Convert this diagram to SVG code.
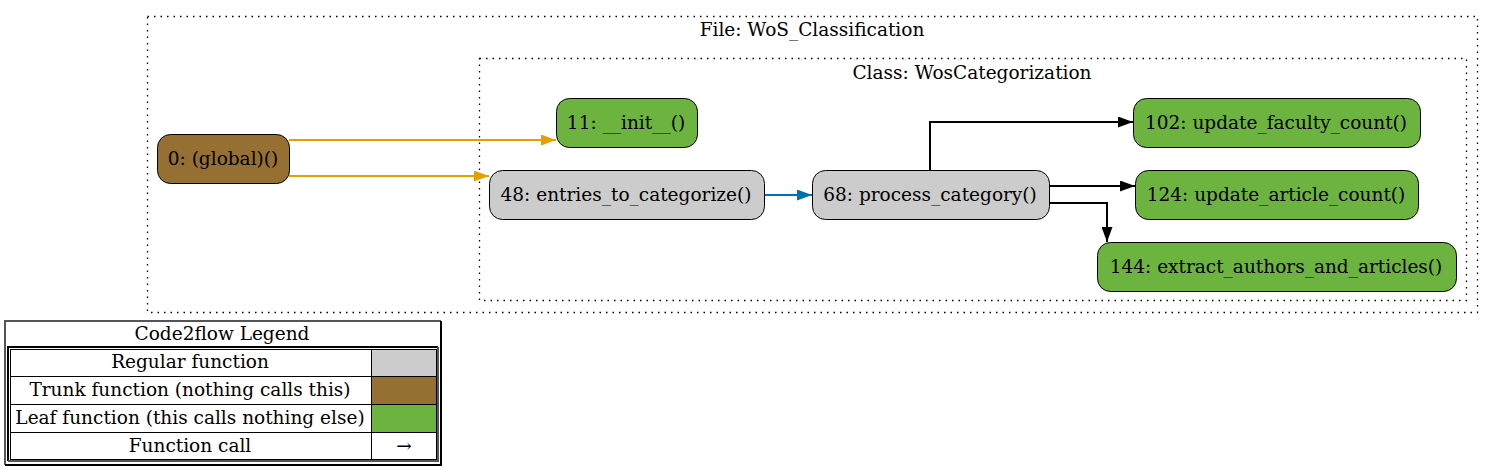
<svg xmlns="http://www.w3.org/2000/svg" width="1493" height="470" viewBox="0 0 1493 470">
<style>
text{font-family:"DejaVu Serif","Liberation Serif",serif;font-size:18.5px;fill:#000;text-anchor:middle}
.cl{fill:none;stroke:#000;stroke-width:1.3;stroke-dasharray:1.5 5}
.n{stroke:#000;stroke-width:1}
.g{fill:#cccccc}.t{fill:#966f33}.l{fill:#6db33f}
.e{fill:none;stroke-width:2}
.lg{fill:#fff;stroke:#000;stroke-width:1}
</style>
<defs>
<marker id="ao" viewBox="0 0 15 11" refX="15" refY="5.5" markerWidth="7.5" markerHeight="5.5" markerUnits="strokeWidth" orient="auto"><path d="M0,0L15,5.5L0,11z" fill="#e69f00"/></marker>
<marker id="ab" viewBox="0 0 15 11" refX="15" refY="5.5" markerWidth="7.5" markerHeight="5.5" markerUnits="strokeWidth" orient="auto"><path d="M0,0L15,5.5L0,11z" fill="#0072b2"/></marker>
<marker id="ak" viewBox="0 0 15 11" refX="15" refY="5.5" markerWidth="7.5" markerHeight="5.5" markerUnits="strokeWidth" orient="auto"><path d="M0,0L15,5.5L0,11z" fill="#000"/></marker>
</defs>
<rect width="1493" height="470" fill="#fff"/>
<g id="cluster_file">
<rect class="cl" x="147.5" y="16.5" width="1330" height="296"/>
<text x="812" y="36">File: WoS_Classification</text>
</g>
<g id="cluster_class">
<rect class="cl" x="479.5" y="58.5" width="987" height="242"/>
<text x="972" y="79">Class: WosCategorization</text>
</g>
<g id="edges">
<path class="e" stroke="#e69f00" d="M289,140H556" marker-end="url(#ao)"/>
<path class="e" stroke="#e69f00" d="M289,176H489" marker-end="url(#ao)"/>
<path class="e" stroke="#0072b2" d="M764,195H812" marker-end="url(#ab)"/>
<path class="e" stroke="#000" d="M930,170V122H1133" marker-end="url(#ak)"/>
<path class="e" stroke="#000" d="M1049,186H1135" marker-end="url(#ak)"/>
<path class="e" stroke="#000" d="M1049,203H1107V242" marker-end="url(#ak)"/>
</g>
<g id="node_global"><rect class="n t" x="157.5" y="134.5" width="132" height="49" rx="13"/><text x="223" y="165">0: (global)()</text></g>
<g id="node_init"><rect class="n l" x="556.5" y="98.5" width="141" height="49" rx="13"/><text x="626" y="129">11: __init__()</text></g>
<g id="node_entries"><rect class="n g" x="489.5" y="170.5" width="275" height="49" rx="13"/><text x="626" y="201">48: entries_to_categorize()</text></g>
<g id="node_process"><rect class="n g" x="812.5" y="170.5" width="237" height="49" rx="13"/><text x="930" y="201">68: process_category()</text></g>
<g id="node_faculty"><rect class="n l" x="1133.5" y="98.5" width="287" height="49" rx="13"/><text x="1276" y="129">102: update_faculty_count()</text></g>
<g id="node_article"><rect class="n l" x="1135.5" y="170.5" width="283" height="49" rx="13"/><text x="1276" y="201">124: update_article_count()</text></g>
<g id="node_extract"><rect class="n l" x="1097.5" y="242.5" width="359" height="49" rx="13"/><text x="1276" y="273">144: extract_authors_and_articles()</text></g>
<g id="legend">
<rect x="5" y="321" width="436" height="144" fill="#fff" stroke="none"/>
<path d="M5,465V321H441" fill="none" stroke="#555" stroke-width="2"/>
<path d="M441,321V465H5" fill="none" stroke="#000" stroke-width="2"/>
<text x="222" y="340">Code2flow Legend</text>
<path d="M8,461V347H438" fill="none" stroke="#000" stroke-width="2"/>
<path d="M438,347V461H8" fill="none" stroke="#555" stroke-width="2"/>
<rect class="lg" x="10.5" y="349.5" width="361" height="27"/>
<rect x="371.5" y="349.5" width="65" height="27" fill="#cccccc" stroke="#000"/>
<rect class="lg" x="10.5" y="376.5" width="361" height="28"/>
<rect x="371.5" y="376.5" width="65" height="28" fill="#966f33" stroke="#000"/>
<rect class="lg" x="10.5" y="404.5" width="361" height="28"/>
<rect x="371.5" y="404.5" width="65" height="28" fill="#6db33f" stroke="#000"/>
<rect class="lg" x="10.5" y="432.5" width="361" height="27"/>
<rect class="lg" x="371.5" y="432.5" width="65" height="27"/>
<text x="190" y="368">Regular function</text>
<text x="190" y="396">Trunk function (nothing calls this)</text>
<text x="190" y="424">Leaf function (this calls nothing else)</text>
<text x="190" y="452">Function call</text>
<text x="404" y="452">→</text>
</g>
</svg>
